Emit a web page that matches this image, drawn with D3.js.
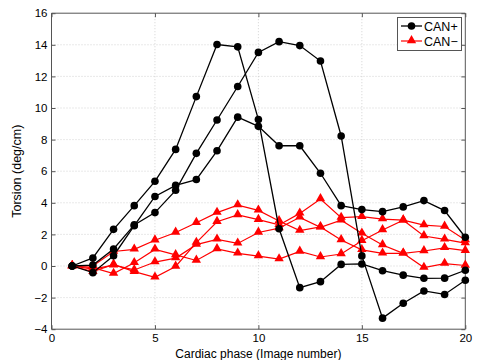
<!DOCTYPE html>
<html><head><meta charset="utf-8">
<script src="https://cdn.jsdelivr.net/npm/d3@7"></script>
<style>body{margin:0;background:#fff;} svg{display:block;font-family:"Liberation Sans",Arial,sans-serif;}</style>
</head><body>
<svg id="c" width="477" height="360"></svg>
<script>
const phases = [1,2,3,4,5,6,7,8,9,10,11,12,13,14,15,16,17,18,19,20];
const canPlus = [
  [0, 0.51, 2.32, 3.82, 5.36, 7.38, 10.72, 14.02, 13.87, 9.27, 2.36, -1.37, -0.99, 0.10, 0.13, -0.30, -0.58, -0.78, -0.77, -0.27],
  [0, 0.06, 1.08, 2.60, 3.38, 4.79, 7.13, 9.24, 11.36, 13.52, 14.20, 13.95, 12.97, 8.23, 0.64, -3.30, -2.36, -1.58, -1.80, -0.90],
  [0, -0.42, 0.65, 2.55, 4.40, 5.10, 5.47, 7.29, 9.42, 8.84, 7.61, 7.61, 5.87, 3.82, 3.57, 3.44, 3.74, 4.14, 3.51, 1.82]
];
const canMinus = [
  [0, 0.00, 0.92, 1.05, 1.63, 2.12, 2.74, 3.38, 3.85, 3.52, 2.85, 2.24, 2.47, 1.65, 1.02, 0.80, 0.80, 0.95, 1.15, 0.97],
  [0, -0.36, 0.10, -0.36, -0.72, -0.03, 1.48, 2.80, 3.23, 2.93, 2.60, 3.33, 4.24, 3.06, 3.12, 2.97, 2.90, 2.59, 2.50, 1.65],
  [0, -0.20, 0.05, -0.25, 0.25, 0.50, 1.35, 1.69, 1.43, 2.12, 2.40, 3.08, 2.45, 2.90, 2.07, 1.33, 0.80, -0.10, 0.15, 0.03],
  [0, -0.10, -0.48, 0.20, 1.05, 0.70, 0.35, 1.08, 0.80, 0.63, 0.44, 0.92, 0.57, 0.76, 1.60, 2.28, 2.90, 1.90, 1.69, 1.45]
];
const xTicks = [0,5,10,15,20];
const yTicks = [-4,-2,0,2,4,6,8,10,12,14,16];
const legendLabels = ["CAN+","CAN\u2212"];
const xLabel = "Cardiac phase (Image number)";
const yLabel = "Torsion (deg/cm)";

const L=51.5, R=465.3, T=13.2, B=329.2;
const svg = d3.select("#c");
const x = d3.scaleLinear().domain([0,20]).range([L,R]);
const y = d3.scaleLinear().domain([-4,16]).range([B,T]);

// grid
const g = svg.append("g");
g.selectAll(".gx").data(xTicks.slice(1,-1)).enter().append("line")
  .attr("x1",d=>x(d)).attr("x2",d=>x(d)).attr("y1",T).attr("y2",B)
  .attr("stroke","#c8c8c8").attr("stroke-width",0.8).attr("stroke-dasharray","1,2");
g.selectAll(".gy").data(yTicks.slice(1,-1)).enter().append("line")
  .attr("y1",d=>y(d)).attr("y2",d=>y(d)).attr("x1",L).attr("x2",R)
  .attr("stroke","#c8c8c8").attr("stroke-width",0.8).attr("stroke-dasharray","1,2");

// axes
const axB = svg.append("g").attr("transform",`translate(0,${B})`)
  .call(d3.axisBottom(x).tickValues(xTicks).tickSize(-4).tickPadding(5).tickFormat(d3.format("d")));
const axT = svg.append("g").attr("transform",`translate(0,${T})`)
  .call(d3.axisTop(x).tickValues(xTicks).tickSize(-4).tickFormat(""));
const axL = svg.append("g").attr("transform",`translate(${L},0)`)
  .call(d3.axisLeft(y).tickValues(yTicks).tickSize(-4).tickPadding(4).tickFormat(d3.format("d")));
const axR = svg.append("g").attr("transform",`translate(${R},0)`)
  .call(d3.axisRight(y).tickValues(yTicks).tickSize(-4).tickFormat(""));
[axB,axT,axL,axR].forEach(a=>{
  a.select(".domain").attr("stroke","#555").attr("stroke-width",1);
  a.selectAll(".tick line").attr("stroke","#555");
  a.selectAll("text").attr("font-size",11.5).attr("fill","#000").attr("font-family","Liberation Sans, Arial, sans-serif");
});
axB.selectAll(".domain").attr("d",`M${L},0H${R}`);
axT.selectAll(".domain").attr("d",`M${L},0H${R}`);
axL.selectAll(".domain").attr("d",`M0,${T}V${B}`);
axR.selectAll(".domain").attr("d",`M0,${T}V${B}`);

// labels
svg.append("text").attr("x",(L+R)/2).attr("y",358).attr("text-anchor","middle")
  .attr("font-size",12).text(xLabel);
svg.append("text").attr("transform",`translate(21,${(T+B)/2}) rotate(-90)`).attr("text-anchor","middle")
  .attr("font-size",12.5).text(yLabel);

const line = d3.line().x((d,i)=>x(phases[i])).y(d=>y(d));
const tri = d3.symbol().type(d3.symbolTriangle).size(38);

// red series
canMinus.forEach(s=>{
  svg.append("path").attr("d",line(s)).attr("fill","none").attr("stroke","#ff0000").attr("stroke-width",1.2);
});
canMinus.forEach(s=>{
  svg.selectAll(null).data(s).enter().append("path").attr("d",tri)
    .attr("transform",(d,i)=>`translate(${x(phases[i])},${y(d)-0.5})`).attr("fill","#ff0000");
});
// black series
canPlus.forEach(s=>{
  svg.append("path").attr("d",line(s)).attr("fill","none").attr("stroke","#000").attr("stroke-width",1.3);
});
canPlus.forEach(s=>{
  svg.selectAll(null).data(s).enter().append("circle")
    .attr("cx",(d,i)=>x(phases[i])).attr("cy",d=>y(d)).attr("r",3.8).attr("fill","#000");
});

// legend
const lg = svg.append("g");
lg.append("rect").attr("x",397.5).attr("y",17.5).attr("width",64).attr("height",33)
  .attr("fill","#fff").attr("stroke","#555").attr("stroke-width",1);
lg.append("line").attr("x1",401).attr("x2",422).attr("y1",26).attr("y2",26).attr("stroke","#000").attr("stroke-width",1.3);
lg.append("circle").attr("cx",411.5).attr("cy",26).attr("r",3.8).attr("fill","#000");
lg.append("line").attr("x1",401).attr("x2",422).attr("y1",41).attr("y2",41).attr("stroke","#ff0000").attr("stroke-width",1.2);
lg.append("path").attr("d",tri).attr("transform","translate(411.5,40.5)").attr("fill","#ff0000");
lg.append("text").attr("x",424).attr("y",30.5).attr("font-size",12.5).text(legendLabels[0]);
lg.append("text").attr("x",424).attr("y",45.5).attr("font-size",12.5).text(legendLabels[1]);
</script>
</body></html>
